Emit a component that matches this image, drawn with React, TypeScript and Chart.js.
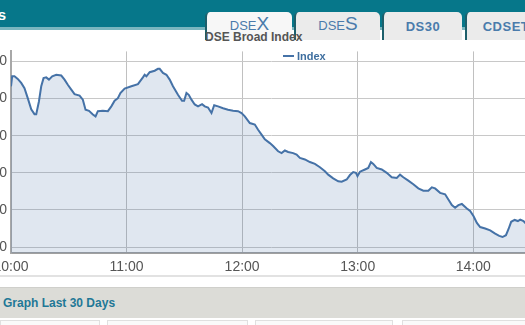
import React, { useEffect, useRef } from "react";
import { Chart, registerables } from "chart.js";

Chart.register(...registerables);

// minutes after 10:00
const minutes = [
  0, 0.6, 1.8, 3.5, 5.3, 7.0, 8.7, 10.5, 12.2, 13.1,
  14.5, 15.7, 16.9, 18.3, 19.7, 21.4, 23.5, 26.1, 27.8, 29.5,
  31.3, 33.0, 35.6, 37.3, 38.7, 40.5, 42.5, 43.9, 45.1, 47.7,
  50.3, 52.1, 53.8, 55.5, 56.8, 59.0, 62.5, 65.9, 68.5, 69.4,
  70.3, 72.0, 74.6, 76.3, 77.2, 78.9, 80.7, 82.4, 84.1, 86.7,
  88.8, 89.9, 91.1, 92.3, 93.7, 95.4, 97.1, 99.2, 100.6, 102.3,
  104.1, 105.5, 107.5, 110.1, 112.7, 115.3, 117.9, 119.7, 121.4, 124.0,
  126.6, 128.3, 130.1, 131.8, 134.4, 136.1, 138.7, 140.5, 142.2, 143.9,
  146.5, 148.3, 150.0, 152.6, 155.2, 157.8, 160.4, 163.0, 164.7, 167.3,
  169.9, 171.7, 174.3, 176.0, 177.7, 179.1, 179.9, 181.2, 183.8, 185.5,
  186.9, 188.1, 189.9, 192.5, 195.1, 197.7, 200.3, 202.0, 203.7, 206.3,
  208.9, 211.5, 214.1, 216.7, 218.5, 220.2, 222.8, 225.4, 227.1, 228.9,
  230.6, 232.3, 234.1, 236.7, 238.4, 240.2, 241.9, 243.6, 246.2, 248.8,
  251.4, 253.5, 255.2, 257.0, 258.3, 259.7, 261.5, 263.2, 264.4, 266.1,
  267.0, 268.5, 270,
];

const indexValues = [
  5323.3, 5326.0, 5326.0, 5325.3, 5324.2, 5322.8, 5320.1, 5317.1, 5315.8, 5315.8,
  5319.2, 5323.3, 5325.5, 5325.7, 5325.1, 5326.0, 5326.4, 5326.2, 5325.1, 5323.7,
  5322.4, 5321.2, 5320.8, 5319.7, 5317.0, 5316.7, 5315.7, 5315.2, 5316.6, 5316.7,
  5316.6, 5317.9, 5319.4, 5320.1, 5321.5, 5322.7, 5323.3, 5323.9, 5325.7, 5326.4,
  5326.0, 5327.1, 5327.5, 5328.0, 5328.0, 5326.9, 5326.4, 5325.1, 5323.3, 5321.0,
  5319.4, 5319.4, 5321.5, 5321.0, 5319.7, 5318.4, 5317.9, 5318.5, 5317.9, 5317.6,
  5316.1, 5318.2, 5317.9, 5317.4, 5317.0, 5316.7, 5316.6, 5316.1, 5315.2, 5313.4,
  5313.0, 5311.6, 5310.3, 5309.0, 5308.0, 5307.2, 5305.8, 5305.3, 5306.0, 5305.6,
  5305.3, 5304.9, 5304.0, 5303.6, 5302.9, 5302.4, 5301.5, 5300.4, 5299.5, 5298.5,
  5297.7, 5297.6, 5298.2, 5299.4, 5300.2, 5300.0, 5299.1, 5300.3, 5300.9, 5301.3,
  5302.9, 5302.4, 5301.3, 5300.9, 5300.0, 5298.8, 5298.6, 5299.5, 5298.8, 5297.9,
  5296.9, 5295.8, 5295.2, 5295.2, 5296.1, 5295.8, 5294.6, 5294.2, 5292.8, 5291.3,
  5290.6, 5291.3, 5291.6, 5290.4, 5289.7, 5288.3, 5286.5, 5285.4, 5285.0, 5284.5,
  5283.6, 5283.0, 5282.7, 5283.2, 5284.8, 5286.8, 5287.3, 5287.0, 5287.4, 5287.0,
  5286.5, 5286.0, 5285.8,
];

const yTicks = [5280, 5290, 5300, 5310, 5320, 5330];
const xTicks = [0, 60, 120, 180, 240];
const xTickLabels = ["10:00", "11:00", "12:00", "13:00", "14:00"];
const seriesName = "Index";
const chartTitle = "DSE Broad Index";

const FONT = 'Arial, "Liberation Sans", sans-serif';
const LINE = "#4572A7";

function IndexChart() {
  const ref = useRef<HTMLCanvasElement | null>(null);
  useEffect(() => {
    if (!ref.current) return;
    const chart = new Chart(ref.current, {
      type: "line",
      data: {
        datasets: [
          {
            label: seriesName,
            data: minutes.map((m, i) => ({ x: m, y: indexValues[i] })),
            borderColor: LINE,
            borderWidth: 2,
            backgroundColor: "rgba(69,114,167,0.17)",
            fill: "start",
            pointRadius: 0,
            tension: 0,
          },
        ],
      },
      options: {
        animation: false,
        responsive: false,
        devicePixelRatio: 1,
        layout: { padding: { top: 0, right: 10, bottom: 0, left: 0 } },
        plugins: { legend: { display: false }, tooltip: { enabled: false } },
        scales: {
          x: {
            type: "linear",
            min: 0,
            max: 270,
            afterBuildTicks: (s: any) => {
              s.ticks = xTicks.map((v) => ({ value: v }));
            },
            afterFit: (s: any) => {
              s.height = 30;
            },
            ticks: {
              autoSkip: false,
              maxRotation: 0,
              padding: 6,
              color: "#555",
              font: { family: FONT, size: 14 },
              callback: (v: any) => {
                const i = xTicks.indexOf(Number(v));
                return i >= 0 ? xTickLabels[i] : "";
              },
            },
            grid: { color: "#c0c0c0", drawTicks: false, lineWidth: 1 },
            border: { color: "#a0a0a0", width: 2 },
          },
          y: {
            min: 5278.4,
            max: 5332.7,
            afterBuildTicks: (s: any) => {
              s.ticks = yTicks.map((v) => ({ value: v }));
            },
            afterFit: (s: any) => {
              s.width = 50;
            },
            ticks: {
              padding: 4,
              color: "#555",
              font: { family: FONT, size: 14 },
              callback: (v: any) => Number(v).toLocaleString("en-US"),
            },
            grid: { color: "#c8c8c8", drawTicks: false, lineWidth: 1 },
            border: { color: "#a8a8a8", width: 2 },
          },
        },
      },
    });
    return () => chart.destroy();
  }, []);
  return (
    <canvas
      ref={ref}
      width={580}
      height={244}
      style={{ position: "absolute", left: -39, top: 39, width: 580, height: 244 }}
    />
  );
}

const tabs = [
  { left: 205, width: 87, active: true, main: "DSE", big: "X" },
  { left: 294, width: 86, active: false, main: "DSE", big: "S" },
  { left: 382, width: 80, active: false, main: "DS30", big: "" },
  { left: 465, width: 80, active: false, main: "CDSET", big: "" },
];

export default function App() {
  return (
    <div
      style={{
        position: "fixed",
        left: 0,
        top: 0,
        width: 525,
        height: 325,
        overflow: "hidden",
        background: "#fff",
        fontFamily: FONT,
      }}
    >
      {/* header bar */}
      <div style={{ position: "absolute", left: 0, top: 0, width: 525, height: 27, background: "#06778a" }} />
      <div style={{ position: "absolute", left: 0, top: 27, width: 525, height: 3, background: "#79b6bf" }} />
      <div
        style={{
          position: "absolute",
          right: 519,
          top: 6,
          color: "#fff",
          fontWeight: "bold",
          fontSize: 15,
          whiteSpace: "nowrap",
          lineHeight: "18px",
        }}
      >
        Graphs
      </div>
      {tabs.map((t, i) => (
        <div
          key={i}
          style={{
            position: "absolute",
            left: t.left,
            top: 12,
            width: t.width,
            height: 28,
            background: t.active ? "#f7f7f7" : "#ebebeb",
            borderLeft: "2px solid #1d5f6b",
            borderRadius: "5px 5px 0 0",
            boxSizing: "border-box",
          }}
        >
          <div
            style={{
              position: "absolute",
              left: 0,
              right: 0,
              top: 2,
              textAlign: "center",
              lineHeight: "20px",
              color: "#4a7bab",
              whiteSpace: "nowrap",
            }}
          >
            {t.big ? (
              <>
                <span style={{ fontSize: 13 }}>{t.main}</span>
                <span style={{ fontSize: 19 }}>{t.big}</span>
              </>
            ) : (
              <span style={{ fontSize: 13, fontWeight: "bold", letterSpacing: 0.5, position: "relative", top: 2 }}>
                {t.main}
              </span>
            )}
          </div>
        </div>
      ))}
      <div
        style={{
          position: "absolute",
          left: 205,
          top: 30,
          fontSize: 12,
          fontWeight: "bold",
          color: "#555",
          lineHeight: "14px",
          whiteSpace: "nowrap",
        }}
      >
        {chartTitle}
      </div>

      <IndexChart />

      {/* legend */}
      <div style={{ position: "absolute", left: 283, top: 55, width: 11, height: 2, background: LINE }} />
      <div
        style={{
          position: "absolute",
          left: 297,
          top: 49,
          fontSize: 11,
          fontWeight: "bold",
          color: "#3e6e9f",
          lineHeight: "14px",
        }}
      >
        {seriesName}
      </div>

      {/* footer */}
      <div style={{ position: "absolute", left: 0, top: 275, width: 525, height: 2, background: "#e2e2e2" }} />
      <div
        style={{
          position: "absolute",
          left: 0,
          top: 287,
          width: 525,
          height: 31,
          background: "#dcdcd7",
          borderTop: "1px solid #cfcfcb",
          boxSizing: "border-box",
        }}
      >
        <div
          style={{
            position: "absolute",
            left: 3,
            top: 8,
            fontSize: 12,
            fontWeight: "bold",
            color: "#1f7896",
            lineHeight: "14px",
            whiteSpace: "nowrap",
          }}
        >
          Graph Last 30 Days
        </div>
      </div>
      {[
        [0, 100],
        [107, 141],
        [255, 138],
        [402, 130],
      ].map(([l, w], i) => (
        <div
          key={i}
          style={{
            position: "absolute",
            left: l,
            top: 320,
            width: w,
            height: 10,
            border: "1px solid #e0e0e0",
            background: "#fafafa",
            boxSizing: "border-box",
          }}
        />
      ))}
    </div>
  );
}
